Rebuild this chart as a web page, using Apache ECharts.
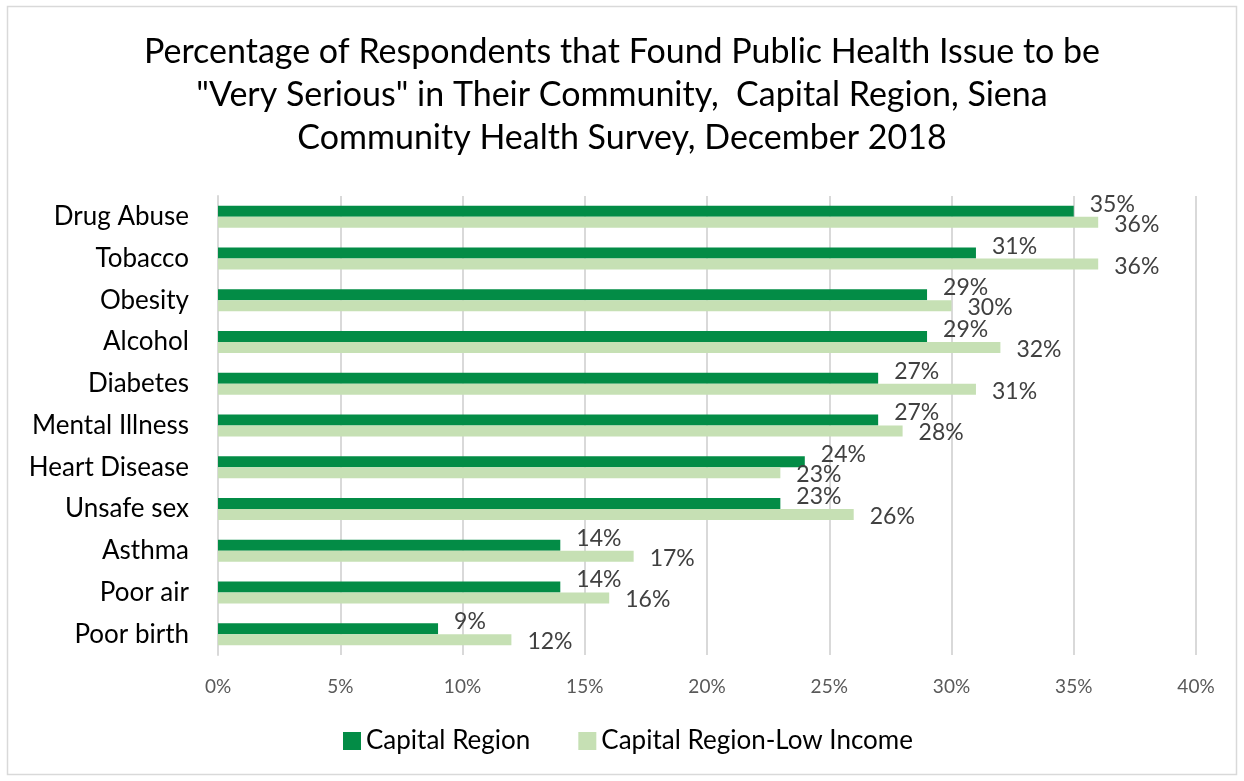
<!DOCTYPE html>
<html>
<head>
<meta charset="utf-8">
<script src="https://cdn.jsdelivr.net/npm/echarts@6/dist/echarts.min.js"></script>
<style>
  html, body { margin: 0; padding: 0; background: #fff; }
  #chart { width: 1244px; height: 781px; }
</style>
</head>
<body>
<div id="chart"></div>
<script>
// data, top to bottom
const categories = ['Drug Abuse', 'Tobacco', 'Obesity', 'Alcohol', 'Diabetes', 'Mental Illness',
  'Heart Disease', 'Unsafe sex', 'Asthma', 'Poor air', 'Poor birth'];
const capitalRegion = [35, 31, 29, 29, 27, 27, 24, 23, 14, 14, 9];
const lowIncome = [36, 36, 30, 32, 31, 28, 23, 26, 17, 16, 12];
const seriesNames = ['Capital Region', 'Capital Region-Low Income'];
const titleText = 'Percentage of Respondents that Found Public Health Issue to be\n"Very Serious" in Their Community,  Capital Region, Siena\nCommunity Health Survey, December 2018';

const FONT = 'Lato';
const chart = echarts.init(document.getElementById('chart'));

const option = {
  animation: false,
  backgroundColor: '#fff',
  graphic: [{
    type: 'rect',
    shape: { x: 7.5, y: 6.5, width: 1229, height: 768 },
    style: { fill: 'none', stroke: '#d9d9d9', lineWidth: 1.5 },
  }],
  title: {
    text: titleText,
    left: 'center',
    top: 26,
    textStyle: { fontFamily: FONT, fontSize: 34, fontWeight: 'normal', color: '#000', lineHeight: 43 },
  },
  legend: {
    bottom: 22,
    left: 338,
    itemWidth: 18,
    itemHeight: 18,
    itemGap: 48,
    icon: 'rect',
    textStyle: { fontFamily: FONT, fontSize: 26, color: '#000', padding: [0, 0, 0, 0] },
    data: seriesNames,
  },
  grid: { left: 218, right: 48, top: 196, bottom: 126, containLabel: false },
  xAxis: {
    type: 'value',
    min: 0,
    max: 40,
    interval: 5,
    axisLine: { show: false },
    axisTick: { show: false },
    splitLine: { lineStyle: { color: '#d9d9d9', width: 2 } },
    axisLabel: { formatter: '{value}%', fontFamily: FONT, fontSize: 19, color: '#595959', margin: 22 },
  },
  yAxis: {
    type: 'category',
    inverse: true,
    data: categories,
    axisLine: { lineStyle: { color: '#d9d9d9', width: 2 } },
    axisTick: { show: false },
    axisLabel: { fontFamily: FONT, fontSize: 26, color: '#000', margin: 29 },
  },
  series: [
    {
      name: seriesNames[0],
      type: 'bar',
      data: capitalRegion,
      barWidth: 11,
      barGap: '0%',
      itemStyle: { color: '#038c46' },
      label: {
        show: true, position: 'right', distance: 16, offset: [0, -7],
        formatter: '{c}%', fontFamily: FONT, fontSize: 23, color: '#404040',
      },
    },
    {
      name: seriesNames[1],
      type: 'bar',
      data: lowIncome,
      barWidth: 11,
      barGap: '0%',
      itemStyle: { color: '#c6e0b4' },
      label: {
        show: true, position: 'right', distance: 16, offset: [0, 2],
        formatter: '{c}%', fontFamily: FONT, fontSize: 23, color: '#404040',
      },
    },
  ],
};

chart.setOption(option);
</script>
</body>
</html>
